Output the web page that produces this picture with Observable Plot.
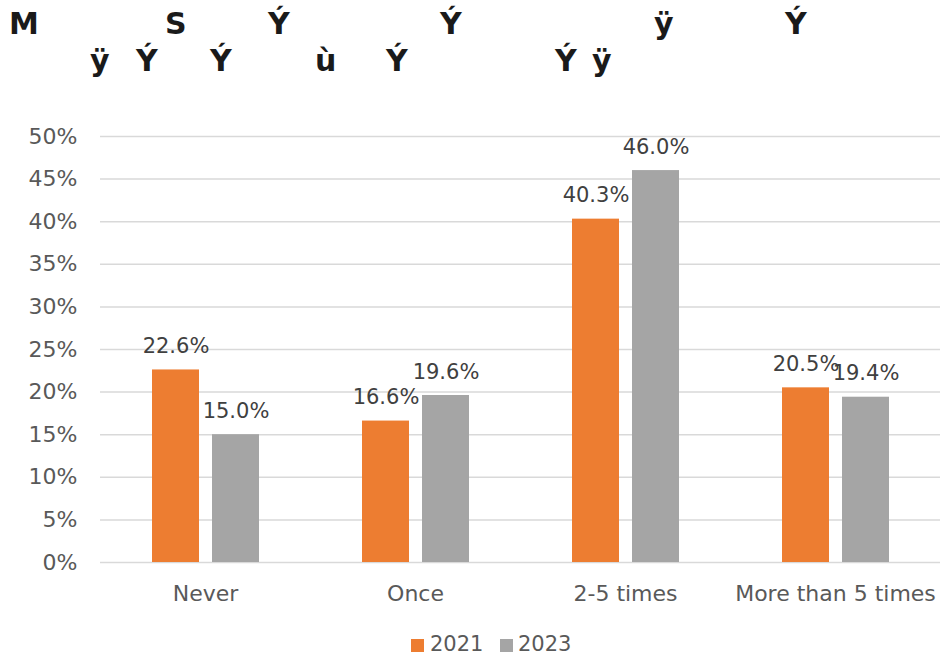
<!DOCTYPE html>
<html>
<head>
<meta charset="utf-8">
<script src="https://cdn.jsdelivr.net/npm/d3@7"></script>
<script src="https://cdn.jsdelivr.net/npm/@observablehq/plot@0.6"></script>
<style>
  body { margin: 0; background: #fff; }
  #page { position: relative; width: 940px; height: 660px; overflow: hidden; font-family: "DejaVu Sans", sans-serif; }
  .t { position: absolute; font-weight: bold; font-size: 30px; line-height: 30px; color: #1a1a1a; white-space: pre; }
  .l1 { top: 9px; }
  .l2 { top: 46px; }
  #chart { position: absolute; left: 0; top: 110px; }
  .sw { position: absolute; width: 13px; height: 13px; top: 639px; }
  .lg { position: absolute; font-size: 21px; line-height: 21px; color: #595959; top: 634px; }
</style>
</head>
<body>
<div id="page">
  <div id="title">
    <span class="t l1" style="left:9px">M</span>
    <span class="t l1" style="left:165px">S</span>
    <span class="t l1" style="left:268px">Ý</span>
    <span class="t l1" style="left:440px">Ý</span>
    <span class="t l1" style="left:654px">ÿ</span>
    <span class="t l1" style="left:785px">Ý</span>
    <span class="t l2" style="left:90px">ÿ</span>
    <span class="t l2" style="left:136px">Ý</span>
    <span class="t l2" style="left:210px">Ý</span>
    <span class="t l2" style="left:315px">ù</span>
    <span class="t l2" style="left:386px">Ý</span>
    <span class="t l2" style="left:555px">Ý</span>
    <span class="t l2" style="left:592px">ÿ</span>
  </div>
  <div id="chart"></div>
  <div id="legend"></div>
</div>
<script>
const categories = ["Never", "Once", "2-5 times", "More than 5 times"];
const years = ["2021", "2023"];
const values2021 = [22.6, 16.6, 40.3, 20.5];
const values2023 = [15.0, 19.6, 46.0, 19.4];
const yTicks = [0, 5, 10, 15, 20, 25, 30, 35, 40, 45, 50];
const colors = ["#ED7D31", "#A5A5A5"];

const data = categories.flatMap((c, i) => [
  { category: c, year: years[0], value: values2021[i] },
  { category: c, year: years[1], value: values2023[i] }
]);

const svg = Plot.plot({
  width: 940,
  height: 500,
  marginTop: 26,
  marginBottom: 48,
  marginLeft: 100,
  marginRight: 0,
  style: { fontFamily: '"DejaVu Sans", sans-serif', background: "transparent" },
  fx: { domain: categories, padding: 0, label: null },
  x: { domain: years, paddingInner: 0.217, paddingOuter: 0.858, axis: null },
  y: { domain: [0, 50], label: null },
  color: { domain: years, range: colors },
  marks: [
    Plot.gridY(yTicks, { stroke: "#d9d9d9", strokeOpacity: 1, strokeWidth: 1.5 }),
    Plot.axisY(yTicks, { tickSize: 0, tickPadding: 23, tickFormat: d => d + "%", fontSize: 22, color: "#595959", label: null }),
    Plot.axisFx({ anchor: "bottom", tickSize: 0, tickPadding: 23, fontSize: 22, color: "#595959", label: null }),
    Plot.barY(data, { fx: "category", x: "year", y: "value", fill: "year" }),
    Plot.text(data, { fx: "category", x: "year", y: "value", text: d => d.value.toFixed(1) + "%", dy: -17, lineAnchor: "bottom", fontSize: 21, fill: "#404040" })
  ]
});
document.getElementById("chart").appendChild(svg);

const legend = document.getElementById("legend");
const swLeft = [411, 500];
const txLeft = [430, 518];
years.forEach((y, i) => {
  const s = document.createElement("div");
  s.className = "sw";
  s.style.left = swLeft[i] + "px";
  s.style.background = colors[i];
  legend.appendChild(s);
  const t = document.createElement("div");
  t.className = "lg";
  t.style.left = txLeft[i] + "px";
  t.textContent = y;
  legend.appendChild(t);
});
</script>
</body>
</html>
